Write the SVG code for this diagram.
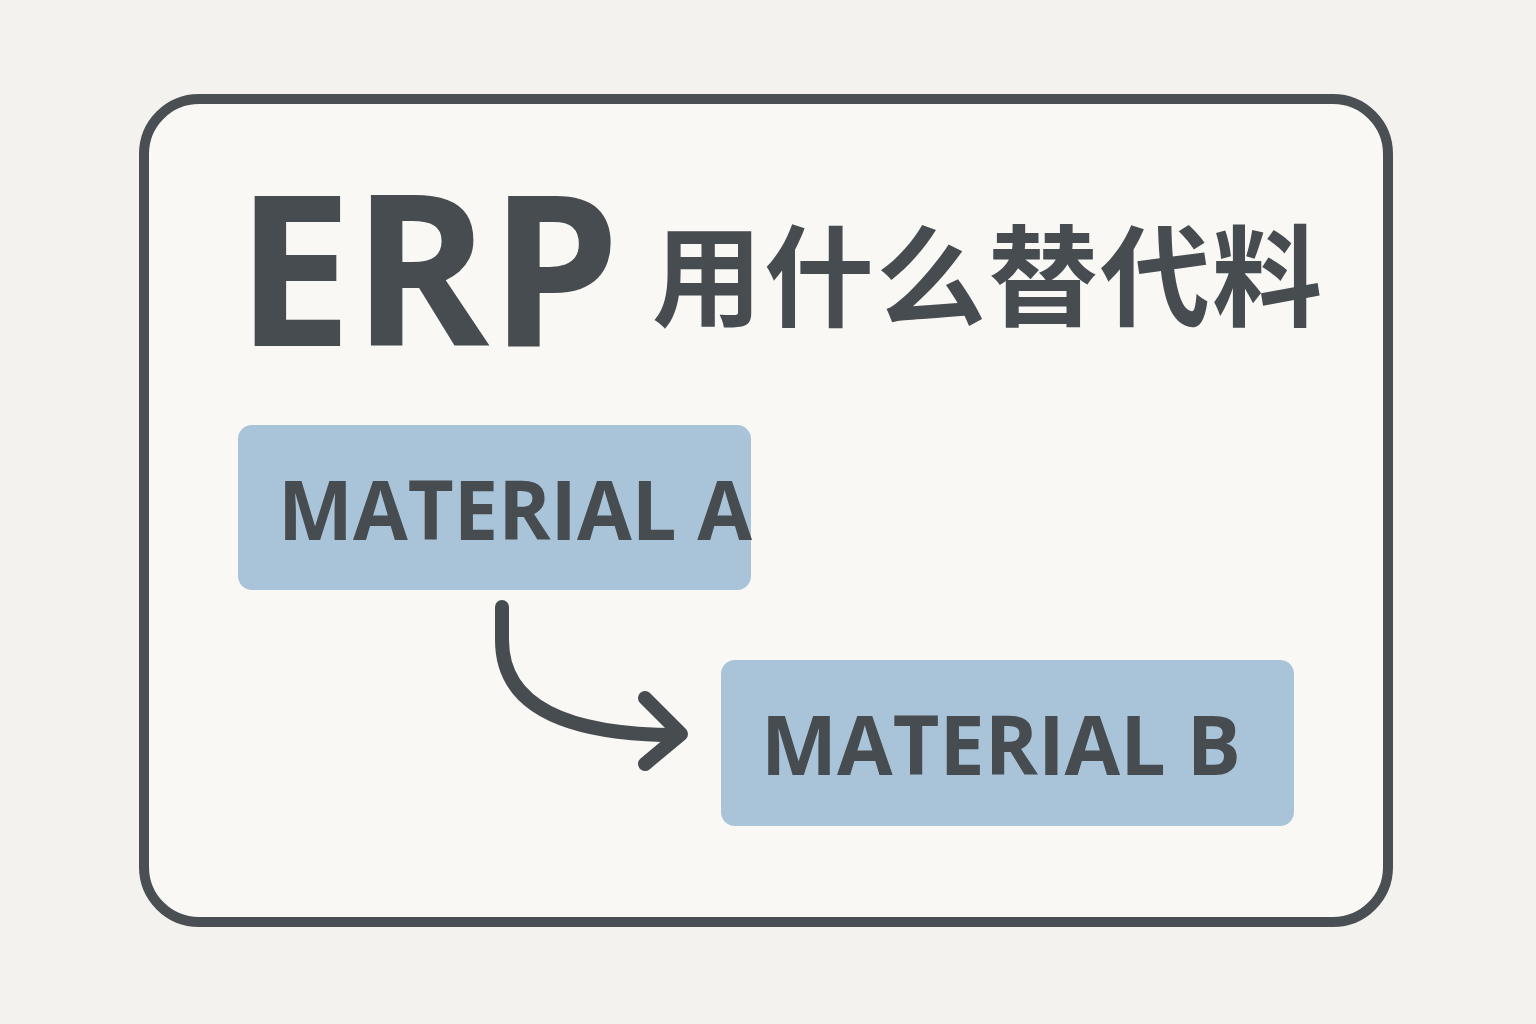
<svg xmlns="http://www.w3.org/2000/svg" width="1536" height="1024" viewBox="0 0 1536 1024">
<style>
.lbl{font-family:"Open Sans","Liberation Sans",sans-serif;font-weight:700;fill:#474c51}
.box{fill:#a9c4d9}
.ln{fill:none;stroke:#474c51;stroke-width:14;stroke-linecap:round;stroke-linejoin:round}
</style>
<rect width="1536" height="1024" fill="#f4f2ef"/>
<g id="frame"><rect x="144" y="99" width="1244" height="823" rx="55" fill="#f9f8f5" stroke="#4a4f54" stroke-width="10"/></g>
<g id="title">
<text class="lbl" x="236" y="346" font-size="210" textLength="384" lengthAdjust="spacingAndGlyphs">ERP</text>
<text class="lbl" x="652" y="318" font-size="110" style="font-family:'Noto Sans CJK SC',sans-serif;font-weight:600" textLength="670">用什么替代料</text>
</g>
<g id="nodeA"><rect class="box" x="238" y="425" width="513" height="165" rx="14"/>
<text class="lbl" x="278" y="540" font-size="82" textLength="474" lengthAdjust="spacingAndGlyphs">MATERIAL A</text></g>
<g id="nodeB"><rect class="box" x="721" y="660" width="573" height="166" rx="14"/>
<text class="lbl" x="761" y="775" font-size="82" textLength="480" lengthAdjust="spacingAndGlyphs">MATERIAL B</text></g>
<g id="connectors">
<path class="ln" d="M502,607 L502,640 Q502,735 678,735"/>
<polyline class="ln" points="645,698 681,734 645,764"/>
</g>
</svg>
